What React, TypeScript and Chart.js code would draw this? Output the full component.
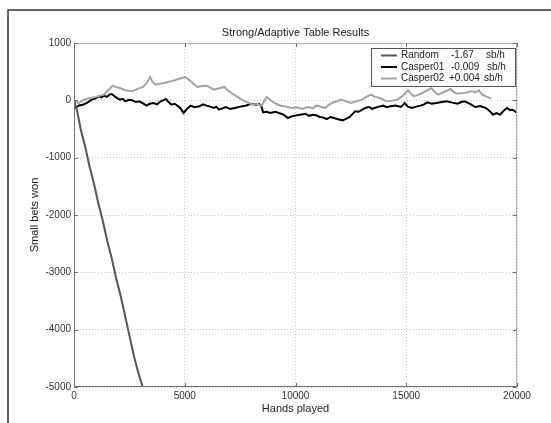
import React, { useEffect, useRef } from "react";
import { Chart, registerables } from "chart.js";

Chart.register(...registerables);

const FONT = "'Liberation Sans', Arial, sans-serif";

const titleText = "Strong/Adaptive Table Results";
const xTitle = "Hands played";
const yTitle = "Small bets won";

const seriesNames = ["Random", "Casper01", "Casper02"];
const seriesRates = ["-1.67", "-0.009", "+0.004"];
const seriesUnit = "sb/h";
const seriesColors = ["#555555", "#000000", "#a3a3a3"];

const randomHands = [0, 150, 300, 500, 700, 900, 1100, 1300, 1500, 1700, 1900, 2100, 2300, 2500, 2700, 2900, 3100, 3250];
const randomWon = [0, -200, -500, -800, -1150, -1450, -1800, -2100, -2450, -2750, -3100, -3400, -3750, -4100, -4450, -4750, -5000, -5250];

const casper01Hands = [0, 60, 230, 399, 600, 798, 950, 1117, 1240, 1357, 1480, 1596, 1700, 1836, 1950, 2075, 2200, 2314, 2480, 2634, 2800, 2953, 3100, 3272, 3420, 3591, 3750, 3910, 4030, 4150, 4270, 4390, 4550, 4709, 4830, 4948, 5100, 5267, 5450, 5666, 5820, 5985, 6150, 6305, 6420, 6544, 6700, 6863, 7050, 7262, 7500, 7741, 7980, 8220, 8350, 8459, 8539, 8700, 8858, 9100, 9337, 9500, 9656, 9820, 9976, 10200, 10455, 10600, 10774, 10930, 11093, 11250, 11412, 11580, 11732, 11930, 12131, 12300, 12450, 12570, 12690, 12850, 13009, 13170, 13328, 13450, 13567, 13770, 13966, 14120, 14285, 14520, 14764, 14850, 14924, 15080, 15243, 15450, 15642, 15800, 15961, 16150, 16360, 16600, 16839, 17080, 17318, 17480, 17637, 17880, 18116, 18350, 18595, 18750, 18915, 19074, 19234, 19400, 19553, 19680, 19792, 19900, 20000];
const casper01Won = [0, -130, -90, -76, -40, 12, 30, 70, 50, 81, 60, 99, 110, 70, 40, 12, 25, -17, 10, 0, -30, -17, -50, -93, -60, -47, -70, -17, 0, 23, -30, -76, -60, -105, -150, -221, -150, -93, -120, -105, -70, -93, -110, -134, -110, -163, -140, -116, -150, -134, -110, -93, -60, -76, -60, -105, -209, -200, -221, -200, -233, -260, -308, -280, -267, -250, -233, -270, -250, -260, -291, -300, -326, -290, -308, -330, -349, -320, -291, -240, -192, -200, -163, -130, -116, -150, -134, -110, -93, -120, -105, -90, -116, -80, -47, -110, -134, -110, -93, -70, -35, -60, -47, -30, -17, -40, -58, -30, -17, -60, -116, -100, -134, -180, -250, -221, -250, -180, -134, -170, -163, -190, -221];

const casper02Hands = [0, 200, 450, 718, 1000, 1357, 1550, 1756, 1900, 2075, 2350, 2634, 2870, 3113, 3280, 3432, 3550, 3671, 3870, 4070, 4230, 4390, 4550, 4709, 4870, 5028, 5150, 5267, 5420, 5586, 5780, 5985, 6150, 6305, 6550, 6783, 6950, 7102, 7340, 7581, 7820, 8060, 8260, 8459, 8580, 8699, 8820, 8938, 9130, 9337, 9580, 9816, 10050, 10295, 10450, 10614, 10780, 10934, 11130, 11333, 11500, 11652, 11850, 12051, 12300, 12530, 12770, 13009, 13200, 13408, 13600, 13807, 13970, 14126, 14370, 14605, 14850, 15084, 15200, 15323, 15520, 15722, 15920, 16121, 16280, 16440, 16720, 16999, 17160, 17318, 17640, 17956, 18120, 18276, 18435, 18640, 18834];
const casper02Won = [0, -50, 10, 40, 60, 100, 180, 256, 230, 215, 170, 157, 200, 233, 300, 407, 320, 273, 290, 302, 320, 331, 350, 372, 390, 407, 370, 331, 280, 233, 250, 256, 220, 186, 210, 233, 170, 128, 70, 12, -30, -76, -60, -93, -20, 58, 20, -17, -60, -93, -110, -134, -120, -151, -130, -116, -140, -93, -110, -134, -80, -47, -20, 12, -20, -47, -10, 12, 60, 99, 60, 41, 10, -17, -5, 12, 80, 174, 120, 70, 90, 128, 170, 215, 150, 99, 150, 198, 140, 116, 130, 157, 140, 174, 99, 60, 29];

const xTicks = [0, 5000, 10000, 15000, 20000];
const yTicks = [1000, 0, -1000, -2000, -3000, -4000, -5000];

const W = 551;
const H = 423;
const PLOT_LEFT = 74;
const PLOT_RIGHT = 517;
const PLOT_TOP = 43;
const PLOT_BOTTOM = 387;

function pts(xs: number[], ys: number[]) {
  return xs.map((x, i) => ({ x, y: ys[i] }));
}

const decorPlugin = {
  id: "decor",
  beforeDraw(chart: any) {
    const ctx = chart.ctx;
    ctx.save();
    ctx.fillStyle = "#ffffff";
    ctx.fillRect(0, 0, W, H);
    ctx.restore();
  },
  afterDraw(chart: any) {
    const ctx = chart.ctx;
    const a = chart.chartArea;
    ctx.save();
    // outer frame
    ctx.strokeStyle = "#333333";
    ctx.lineWidth = 1.5;
    ctx.beginPath();
    ctx.moveTo(W, 10);
    ctx.lineTo(8, 10);
    ctx.lineTo(8, H);
    ctx.stroke();
    // axes box
    ctx.lineWidth = 1;
    ctx.strokeStyle = "#b0b0b0";
    ctx.beginPath();
    ctx.moveTo(a.left + 0.5, a.top + 0.5);
    ctx.lineTo(a.right - 0.5, a.top + 0.5);
    ctx.lineTo(a.right - 0.5, a.bottom - 0.5);
    ctx.stroke();
    ctx.strokeStyle = "#707070";
    ctx.beginPath();
    ctx.moveTo(a.left + 0.5, a.top + 0.5);
    ctx.lineTo(a.left + 0.5, a.bottom - 0.5);
    ctx.lineTo(a.right - 0.5, a.bottom - 0.5);
    ctx.stroke();
    // small inward ticks
    const xs = chart.scales.x;
    const ys = chart.scales.y;
    ctx.strokeStyle = "#707070";
    ctx.beginPath();
    for (const t of xTicks) {
      const px = Math.round(xs.getPixelForValue(t)) + 0.5;
      ctx.moveTo(px, a.bottom);
      ctx.lineTo(px, a.bottom - 4);
      ctx.moveTo(px, a.top);
      ctx.lineTo(px, a.top + 4);
    }
    for (const t of yTicks) {
      const py = Math.round(ys.getPixelForValue(t)) + 0.5;
      ctx.moveTo(a.left, py);
      ctx.lineTo(a.left + 4, py);
      ctx.moveTo(a.right, py);
      ctx.lineTo(a.right - 4, py);
    }
    ctx.stroke();

    // titles
    ctx.fillStyle = "#222222";
    ctx.font = `11px ${FONT}`;
    ctx.textAlign = "center";
    ctx.textBaseline = "middle";
    ctx.fillText(titleText, (a.left + a.right) / 2, 33);
    ctx.fillText(xTitle, (a.left + a.right) / 2, 409);
    ctx.save();
    ctx.translate(35, (a.top + a.bottom) / 2);
    ctx.rotate(-Math.PI / 2);
    ctx.fillText(yTitle, 0, 0);
    ctx.restore();

    // legend
    const lx = 371, ly = 48, lw = 144, lh = 38;
    ctx.fillStyle = "#ffffff";
    ctx.fillRect(lx, ly, lw, lh);
    ctx.strokeStyle = "#555555";
    ctx.lineWidth = 1;
    ctx.strokeRect(lx + 0.5, ly + 0.5, lw, lh);
    const rowY = [55.5, 67, 78.5];
    const rateX = [451, 451, 449];
    const unitX = [486, 487, 484];
    ctx.font = `10px ${FONT}`;
    ctx.textAlign = "left";
    for (let i = 0; i < 3; i++) {
      ctx.strokeStyle = seriesColors[i];
      ctx.lineWidth = 2;
      ctx.beginPath();
      ctx.moveTo(381, rowY[i]);
      ctx.lineTo(397, rowY[i]);
      ctx.stroke();
      ctx.fillStyle = "#222222";
      ctx.fillText(seriesNames[i], 401, rowY[i]);
      ctx.fillText(seriesRates[i], rateX[i], rowY[i]);
      ctx.fillText(seriesUnit, unitX[i], rowY[i]);
    }
    ctx.restore();
  },
};

export default function App() {
  const ref = useRef<HTMLCanvasElement | null>(null);
  useEffect(() => {
    if (!ref.current) return;
    const chart = new Chart(ref.current, {
      type: "line",
      data: {
        datasets: [
          {
            label: seriesNames[0],
            data: pts(randomHands, randomWon),
            borderColor: seriesColors[0],
            borderWidth: 2,
            pointRadius: 0,
            tension: 0,
          },
          {
            label: seriesNames[2],
            data: pts(casper02Hands, casper02Won),
            borderColor: seriesColors[2],
            borderWidth: 2,
            pointRadius: 0,
            tension: 0,
          },
          {
            label: seriesNames[1],
            data: pts(casper01Hands, casper01Won),
            borderColor: seriesColors[1],
            borderWidth: 2,
            pointRadius: 0,
            tension: 0,
          },
        ],
      },
      options: {
        animation: false,
        responsive: false,
        maintainAspectRatio: false,
        layout: { padding: { left: 0, top: PLOT_TOP, right: W - PLOT_RIGHT, bottom: 0 } },
        plugins: {
          legend: { display: false },
          title: { display: false },
          tooltip: { enabled: false },
        },
        scales: {
          x: {
            type: "linear",
            min: 0,
            max: 20000,
            afterFit: (s: any) => { s.height = H - PLOT_BOTTOM; },
            afterBuildTicks: (s: any) => { s.ticks = xTicks.map((v) => ({ value: v })); },
            ticks: {
              color: "#333333",
              font: { family: FONT, size: 10 },
              padding: 3,
              maxRotation: 0,
              callback: (v: any) => String(v),
            },
            grid: { color: "#c4c4c4", drawTicks: false, lineWidth: 1 },
            border: { display: false, dash: [1, 2] },
          },
          y: {
            type: "linear",
            min: -5000,
            max: 1000,
            afterFit: (s: any) => { s.width = PLOT_LEFT; },
            afterBuildTicks: (s: any) => { s.ticks = yTicks.map((v) => ({ value: v })); },
            ticks: {
              color: "#333333",
              font: { family: FONT, size: 10 },
              padding: 3,
              callback: (v: any) => String(v),
            },
            grid: { color: "#c4c4c4", drawTicks: false, lineWidth: 1 },
            border: { display: false, dash: [1, 2] },
          },
        },
      },
      plugins: [decorPlugin],
    });
    return () => chart.destroy();
  }, []);
  return (
    <div style={{ position: "absolute", left: 0, top: 0, width: W, height: H }}>
      <canvas ref={ref} width={W} height={H} style={{ width: W, height: H, display: "block" }} />
    </div>
  );
}
